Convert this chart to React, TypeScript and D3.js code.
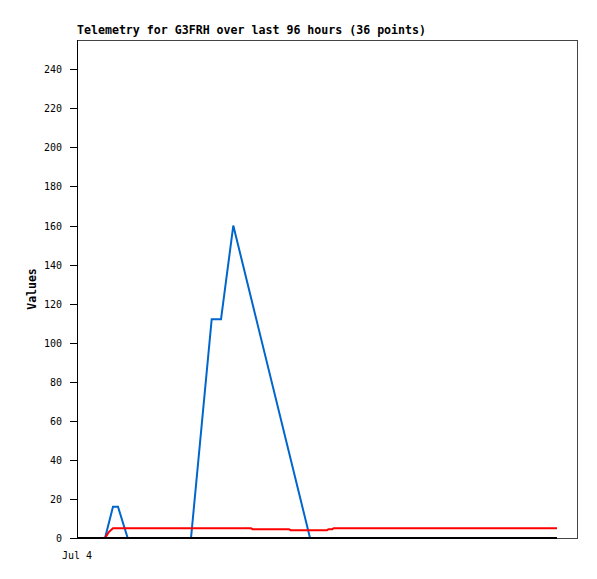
import React from "react";
import * as d3 from "d3";

// Times in hours from the start of the window
const blueTimes = [0, 5.38, 6.91, 7.87, 9.73, 21.89, 25.86, 27.65, 30.01, 44.74, 92.16];
const blueValues = [0, 0, 16, 16, 0, 0, 112, 112, 160, 0, 0];

const redTimes = [0, 5.38, 6.1, 6.91, 33.4, 33.7, 40.7, 41.0, 48.0, 48.3, 49.0, 49.3, 92.16];
const redValues = [0, 0, 3, 5, 5, 4.5, 4.5, 4, 4, 4.5, 4.5, 5, 5];

const blackTimes = [0, 92.16];
const blackValues = [0, 0];

const yTicks = [0, 20, 40, 60, 80, 100, 120, 140, 160, 180, 200, 220, 240];
const xTickLabels = ["Jul 4"];
const xTickTimes = [0];

const W = 597;
const H = 579;
const left = 77;
const right = 577;
const top = 40;
const bottom = 538;

export default function App() {
  const x = d3.scaleLinear().domain([0, 96]).range([left, right]);
  const y = d3.scaleLinear().domain([0, 255]).range([bottom, top]);

  const line = (ts: number[], vs: number[]) =>
    d3
      .line<number>()
      .x((_, i) => x(ts[i]))
      .y((v) => y(v))(vs) || "";

  const mono = "'DejaVu Sans Mono', monospace";

  return (
    <svg
      width={W}
      height={H}
      style={{ position: "absolute", left: 0, top: 0, background: "#fff" }}
    >
      <text x={left} y={34} fontFamily={mono} fontSize={11.6} fontWeight="bold" fill="#000">
        Telemetry for G3FRH over last 96 hours (36 points)
      </text>
      {/* frame */}
      <line x1={left} y1={top + 0.5} x2={right} y2={top + 0.5} stroke="#444" strokeWidth={1} />
      <line x1={right + 0.5} y1={top} x2={right + 0.5} y2={bottom + 1} stroke="#444" strokeWidth={1} />
      <line x1={left} y1={bottom + 0.5} x2={right} y2={bottom + 0.5} stroke="#444" strokeWidth={1} />
      <line x1={left + 0.5} y1={top} x2={left + 0.5} y2={bottom + 1} stroke="#000" strokeWidth={1} />

      {yTicks.map((t) => (
        <g key={t}>
          <line x1={70} x2={left} y1={Math.round(y(t)) + 0.5} y2={Math.round(y(t)) + 0.5} stroke="#000" />
          <text x={62} y={y(t) + 4} textAnchor="end" fontFamily={mono} fontSize={10} fill="#000">
            {t}
          </text>
        </g>
      ))}

      {xTickLabels.map((l, i) => (
        <text key={l} x={x(xTickTimes[i])} y={559} textAnchor="middle" fontFamily={mono} fontSize={10} fill="#000">
          {l}
        </text>
      ))}

      <text
        transform={`translate(36, ${(top + bottom) / 2}) rotate(-90)`}
        textAnchor="middle"
        fontFamily={mono}
        fontSize={11.5}
        fontWeight="bold"
        fill="#000"
      >
        Values
      </text>

      <path d={line(blueTimes, blueValues)} fill="none" stroke="#0066cc" strokeWidth={2} />
      <path d={line(redTimes, redValues)} fill="none" stroke="#ff0000" strokeWidth={2} />
      <path d={line(blackTimes, blackValues)} fill="none" stroke="#000" strokeWidth={2} />
    </svg>
  );
}
